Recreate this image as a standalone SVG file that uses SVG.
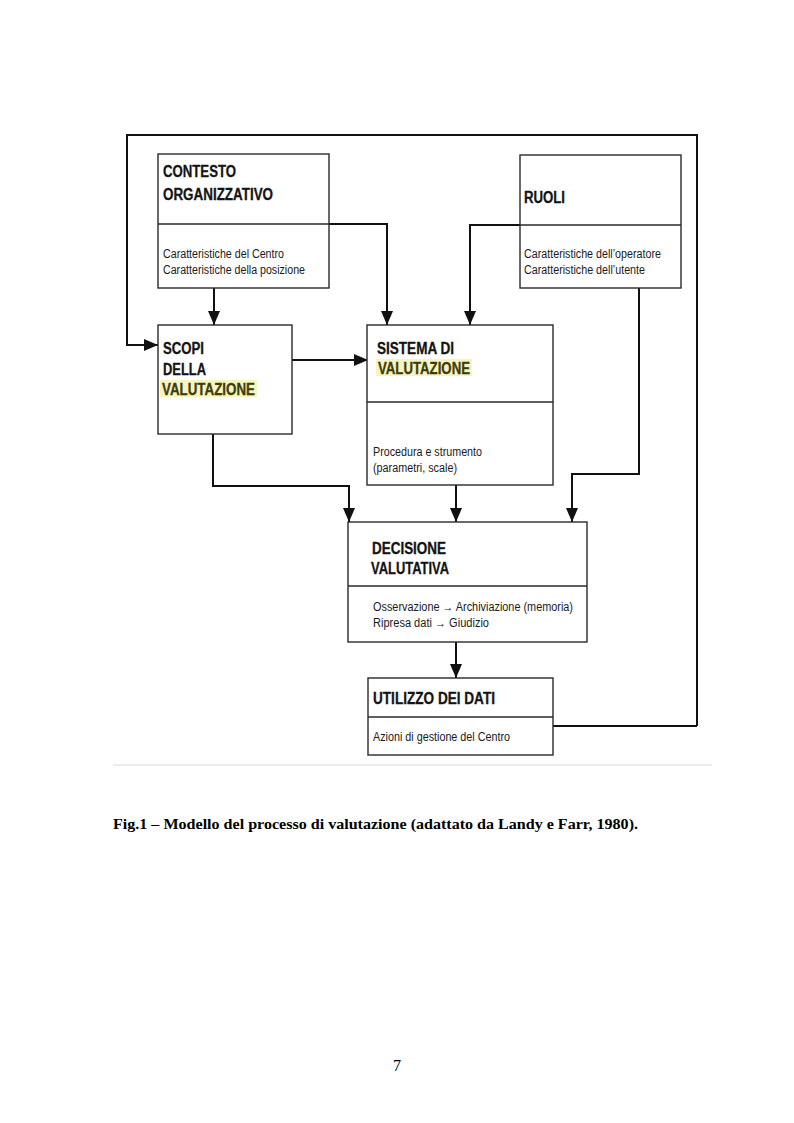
<svg xmlns="http://www.w3.org/2000/svg" width="794" height="1123" viewBox="0 0 794 1123">
<defs>
<style>
.box{fill:#fff;stroke:#2a2a2a;stroke-width:1.4}
.div{stroke:#2a2a2a;stroke-width:1.3;fill:none}
.con{stroke:#111;stroke-width:2;fill:none}
.h{font-family:"Liberation Sans",Arial,sans-serif;font-weight:bold;font-size:16px;fill:#141414;stroke:#141414;stroke-width:0.3}
.hl{fill:#3d3c0c;stroke:#3d3c0c}
.s{font-family:"Liberation Sans",Arial,sans-serif;font-size:12px;fill:#1a1a1a}
.hb{fill:#f7f4c0}
.cap{font-family:"Liberation Serif","Times New Roman",serif;font-weight:bold;font-size:15.5px;fill:#000}
.pg{font-family:"Liberation Serif","Times New Roman",serif;font-size:16px;fill:#000}
</style>
<marker id="ah" markerUnits="userSpaceOnUse" markerWidth="14" markerHeight="12" refX="14" refY="6" orient="auto">
<path d="M0,0 L14,6 L0,12 z" fill="#111"/>
</marker>
</defs>
<rect width="794" height="1123" fill="#fff"/>

<g id="connectors">
<path class="con" d="M697,726 L697,135 L127,135 L127,345 L158,345" marker-end="url(#ah)"/>
<path class="con" d="M214,288 L214,325" marker-end="url(#ah)"/>
<path class="con" d="M329,224 L387,224 L387,325" marker-end="url(#ah)"/>
<path class="con" d="M520,225 L470,225 L470,325" marker-end="url(#ah)"/>
<path class="con" d="M292,360 L368,360" marker-end="url(#ah)"/>
<path class="con" d="M213,434 L213,486 L349,486 L349,522" marker-end="url(#ah)"/>
<path class="con" d="M456,485 L456,522" marker-end="url(#ah)"/>
<path class="con" d="M639,288 L639,474 L572,474 L572,522" marker-end="url(#ah)"/>
<path class="con" d="M456,642 L456,678" marker-end="url(#ah)"/>
<path class="con" d="M553,726 L697,726"/>
</g>

<g id="contesto">
<rect class="box" x="158" y="154" width="171" height="134"/>
<line class="div" x1="158" y1="224" x2="329" y2="224"/>
<text class="h" x="163" y="177" textLength="73" lengthAdjust="spacingAndGlyphs">CONTESTO</text>
<text class="h" x="163" y="200" textLength="110" lengthAdjust="spacingAndGlyphs">ORGANIZZATIVO</text>
<text class="s" x="163" y="258" textLength="121" lengthAdjust="spacingAndGlyphs">Caratteristiche del Centro</text>
<text class="s" x="163" y="274" textLength="142" lengthAdjust="spacingAndGlyphs">Caratteristiche della posizione</text>
</g>

<g id="ruoli">
<rect class="box" x="520" y="155" width="161" height="133"/>
<line class="div" x1="520" y1="225" x2="681" y2="225"/>
<text class="h" x="524" y="202.5" textLength="41" lengthAdjust="spacingAndGlyphs">RUOLI</text>
<text class="s" x="524" y="258" textLength="137" lengthAdjust="spacingAndGlyphs">Caratteristiche dell’operatore</text>
<text class="s" x="524" y="274" textLength="121" lengthAdjust="spacingAndGlyphs">Caratteristiche dell’utente</text>
</g>

<g id="scopi">
<rect class="box" x="158" y="325" width="134" height="109"/>
<text class="h" x="163" y="353.5" textLength="41" lengthAdjust="spacingAndGlyphs">SCOPI</text>
<text class="h" x="163" y="375" textLength="43" lengthAdjust="spacingAndGlyphs">DELLA</text>
<rect class="hb" x="160" y="380" width="97" height="17"/>
<text class="h hl" x="162" y="394.5" textLength="93" lengthAdjust="spacingAndGlyphs">VALUTAZIONE</text>
</g>

<g id="sistema">
<rect class="box" x="367" y="325" width="186" height="160"/>
<line class="div" x1="367" y1="402" x2="553" y2="402"/>
<text class="h" x="377" y="353.5" textLength="77" lengthAdjust="spacingAndGlyphs">SISTEMA DI</text>
<rect class="hb" x="376" y="359" width="96" height="17"/>
<text class="h hl" x="378" y="373.5" textLength="92" lengthAdjust="spacingAndGlyphs">VALUTAZIONE</text>
<text class="s" x="373" y="455.5" textLength="109" lengthAdjust="spacingAndGlyphs">Procedura e strumento</text>
<text class="s" x="373" y="472" textLength="84" lengthAdjust="spacingAndGlyphs">(parametri, scale)</text>
</g>

<g id="decisione">
<rect class="box" x="348" y="522" width="239" height="120"/>
<line class="div" x1="348" y1="586" x2="587" y2="586"/>
<text class="h" x="372" y="553.5" textLength="74" lengthAdjust="spacingAndGlyphs">DECISIONE</text>
<text class="h" x="371" y="573.5" textLength="78" lengthAdjust="spacingAndGlyphs">VALUTATIVA</text>
<text class="s" x="373" y="610.5" textLength="200" lengthAdjust="spacingAndGlyphs">Osservazione  → Archiviazione (memoria)</text>
<text class="s" x="373" y="627" textLength="116" lengthAdjust="spacingAndGlyphs">Ripresa dati  → Giudizio</text>
</g>

<g id="utilizzo">
<rect class="box" x="368" y="678" width="185" height="77"/>
<line class="div" x1="368" y1="717" x2="553" y2="717"/>
<text class="h" x="373" y="703.5" textLength="122" lengthAdjust="spacingAndGlyphs">UTILIZZO DEI DATI</text>
<text class="s" x="373" y="740.5" textLength="137" lengthAdjust="spacingAndGlyphs">Azioni di gestione del Centro</text>
</g>

<line x1="113" y1="765" x2="712" y2="765" stroke="#ececec" stroke-width="2"/>

<text class="cap" x="113" y="828.5" textLength="525" lengthAdjust="spacingAndGlyphs">Fig.1 – Modello del processo di valutazione (adattato da Landy e Farr, 1980).</text>
<text class="pg" x="397" y="1071" text-anchor="middle">7</text>
</svg>
